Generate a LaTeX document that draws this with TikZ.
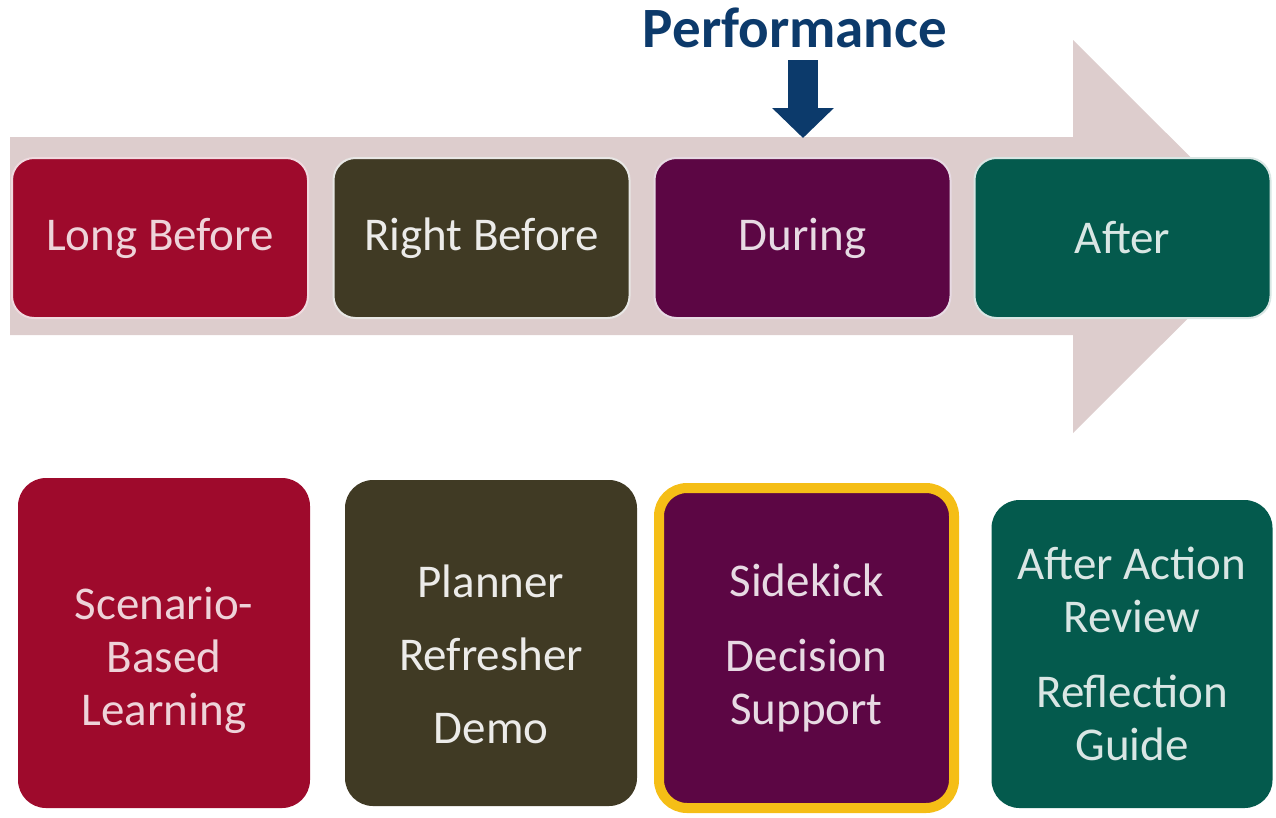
\documentclass[tikz,border=0pt]{standalone}
\usepackage{fontspec}
\setmainfont{Carlito}
\usetikzlibrary{arrows.meta}
\definecolor{band}{HTML}{DDCDCD}
\definecolor{crimson}{HTML}{9E0A2C}
\definecolor{olive}{HTML}{403A24}
\definecolor{plum}{HTML}{5C0644}
\definecolor{teal}{HTML}{045A4D}
\definecolor{navy}{HTML}{0C3A6B}
\definecolor{gold}{HTML}{F5BE16}
\tikzset{
  phase/.style={rectangle, rounded corners=22pt, line width=2pt, inner sep=0pt,
    minimum height=160, align=center, font=\fontsize{47}{53}\selectfont},
  tool/.style={rectangle, rounded corners=28pt, inner sep=0pt,
    align=center, font=\fontsize{47}{53}\selectfont},
  cr/.style={fill=crimson, draw=crimson!15, text=crimson!18},
  ol/.style={fill=olive, draw=olive!12, text=olive!10},
  pl/.style={fill=plum, draw=plum!15, text=plum!15},
  te/.style={fill=teal, draw=teal!15, text=teal!15},
  perfarrow/.style={draw=navy, line width=30pt, -{Triangle[width=60pt,length=30pt]}},
}
\begin{document}
\begin{tikzpicture}[x=1pt,y=-1pt]
  \useasboundingbox (0,0) rectangle (1276,817);
  % timeline band
  \fill[band] (10,137) -- (1073,137) -- (1073,40) -- (1270,236.5)
    -- (1073,433) -- (1073,335) -- (10,335) -- cycle;
  % phases
  \foreach \N/\x/\s/\T in {long/160/cr/Long Before,right/481.5/ol/Right Before,
    during/802.5/pl/During,after/1122.5/te/After}
    \node[phase,\s,minimum width=296] (\N) at (\x,238) {\T};
  % performance marker
  \node[font=\fontsize{57}{60}\selectfont\bfseries, text=navy] (perf) at (795,28) {Performance};
  \coordinate (perftip) at (803,138);
  \draw[perfarrow] (perftip |- 0,60) -- (perftip);
  % tools
  \node[tool,cr,draw=none,minimum width=292,minimum height=330] (scenario) at (164,643)
    {\rule{0pt}{68pt}Scenario-\\Based\\Learning};
  \node[tool,ol,draw=none,minimum width=292,minimum height=326] (planner) at (491,643)
    {\rule{0pt}{55pt}Planner\\[20pt]Refresher\\[20pt]Demo};
  \node[tool,pl,draw=gold,line width=10pt,minimum width=295,minimum height=320] (sidekick) at (806.5,648)
    {Sidekick\\[22pt]Decision\\Support};
  \node[tool,te,draw=none,minimum width=281,minimum height=308] (review) at (1132,654)
    {After Action\\Review\\[22pt]Reflection\\Guide};
\end{tikzpicture}
\end{document}
